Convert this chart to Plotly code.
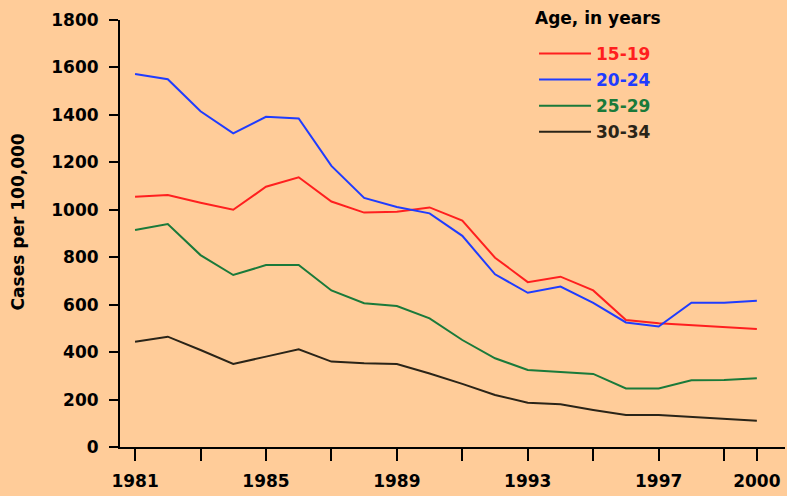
import plotly.graph_objects as go

years = list(range(1981, 2001))
age_15_19 = [1055, 1062, 1030, 1000, 1097, 1137, 1035, 988, 992, 1010, 954, 798, 695, 718, 660, 535, 522, 513, 507, 497]
age_20_24 = [1572, 1550, 1415, 1322, 1392, 1385, 1185, 1050, 1012, 985, 890, 728, 650, 676, 608, 525, 508, 608, 608, 617]
age_25_29 = [915, 940, 809, 725, 767, 767, 660, 606, 594, 542, 451, 374, 325, 315, 308, 247, 247, 281, 282, 290]
age_30_34 = [444, 465, 409, 350, 381, 412, 360, 353, 350, 310, 266, 219, 187, 180, 156, 135, 135, 128, 119, 111]

series_names = ["15-19", "20-24", "25-29", "30-34"]
series_colors = ["#ff1f1f", "#1f3cff", "#1a7a3a", "#2a2418"]
series_values = [age_15_19, age_20_24, age_25_29, age_30_34]

x_tick_vals = [1981, 1983, 1985, 1987, 1989, 1991, 1993, 1995, 1997, 1999, 2000]
x_tick_text = ["1981", "", "1985", "", "1989", "", "1993", "", "1997", "", "2000"]
y_tick_vals = [0, 200, 400, 600, 800, 1000, 1200, 1400, 1600, 1800]

BG = "#ffcc99"
FONT = "DejaVu Sans"

fig = go.Figure()
for name, color, vals in zip(series_names, series_colors, series_values):
    fig.add_trace(go.Scatter(
        x=years, y=vals, mode="lines",
        line=dict(color=color, width=2),
        name=f"<span style='color:{color}'>{name}</span>",
        legendgroup=name,
    ))

fig.update_layout(
    width=787, height=496,
    paper_bgcolor=BG, plot_bgcolor=BG,
    margin=dict(l=120, r=2, t=20, b=49, autoexpand=False),
    font=dict(family=FONT, size=17, color="black", weight="bold"),
    showlegend=True,
    legend=dict(
        x=0.6226, y=0.9627, xanchor="left", yanchor="top",
        bgcolor="rgba(0,0,0,0)",
        font=dict(family=FONT, size=17, weight="bold"),
        itemwidth=52,
        tracegroupgap=1,
    ),
    xaxis=dict(
        range=[1980.54, 2000.86],
        tickvals=x_tick_vals, ticktext=x_tick_text,
        ticks="outside", ticklen=12, tickwidth=2, tickcolor="black",
        showline=True, linecolor="black", linewidth=2,
        showgrid=False, zeroline=False, automargin=False,
        ticklabelstandoff=6,
        tickfont=dict(family=FONT, size=17, weight="bold"),
    ),
    yaxis=dict(
        range=[0, 1800],
        tickvals=y_tick_vals,
        ticks="outside", ticklen=9, tickwidth=2, tickcolor="black",
        showline=True, linecolor="black", linewidth=2,
        showgrid=False, zeroline=False, automargin=False,
        ticklabelstandoff=7,
        tickfont=dict(family=FONT, size=17, weight="bold"),
    ),
    annotations=[
        dict(
            text="Cases per 100,000", textangle=-90,
            xref="paper", yref="paper",
            x=-0.153, y=0.5266, xanchor="center", yanchor="middle",
            showarrow=False,
            font=dict(family=FONT, size=17, color="black", weight="bold"),
        ),
        dict(
            text="Age, in years",
            xref="paper", yref="paper",
            x=0.7188, y=1.0047, xanchor="center", yanchor="middle",
            showarrow=False,
            font=dict(family=FONT, size=17, color="black", weight="bold"),
        ),
    ],
    shapes=[dict(
        type="line", xref="paper", yref="y",
        x0=-0.016, x1=0, y0=0, y1=0,
        line=dict(color="black", width=2),
    )],
)

fig.write_html(
    "out.html",
    config={"displayModeBar": False},
    post_script="document.body.style.margin='0';document.body.style.background='#ffcc99';",
)
